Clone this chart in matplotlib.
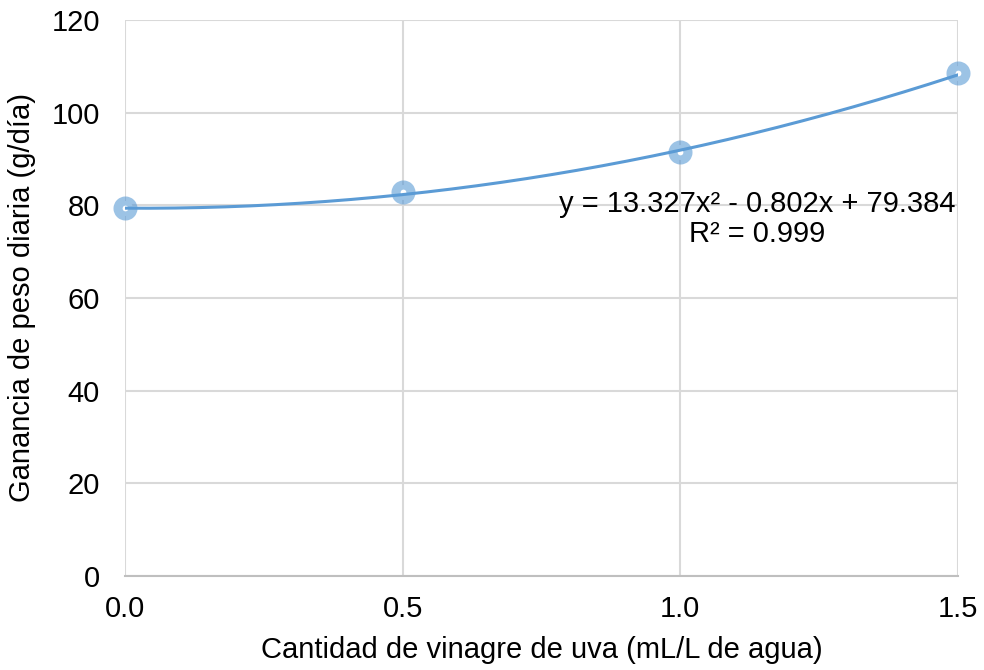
import numpy as np
import matplotlib
matplotlib.use("Agg")
import matplotlib.pyplot as plt

plt.rcParams['font.family'] = ['Liberation Sans', 'DejaVu Sans']

# Data
dose = [0.0, 0.5, 1.0, 1.5]
gain = [79.4, 82.8, 91.6, 108.5]
trend_coefs = [13.327, -0.802, 79.384]
r2 = 0.999
x_ticks = [0.0, 0.5, 1.0, 1.5]
y_ticks = [0, 20, 40, 60, 80, 100, 120]

fig = plt.figure(figsize=(9.84, 6.70), dpi=100)
ax = fig.add_axes([125/984, 1-576/670, (958-125)/984, (576-20)/670])

xs = np.linspace(dose[0], dose[-1], 200)
ax.plot(xs, np.polyval(trend_coefs, xs), color='#5B9BD5', lw=2.2, zorder=4)
ax.plot(dose, gain, linestyle='none', marker='o', markersize=10.8,
        markerfacecolor='white', markeredgecolor=(0.357, 0.608, 0.835, 0.6),
        markeredgewidth=6.5, zorder=3, clip_on=False)

ax.set_xlim(0, 1.5)
ax.set_ylim(0, 120)
ax.set_xticks(x_ticks)
ax.set_xticklabels([f"{v:.1f}" for v in x_ticks])
ax.set_yticks(y_ticks)
ax.tick_params(axis='both', length=0, labelsize=21, colors='black')
ax.tick_params(axis='x', pad=14)
ax.tick_params(axis='y', pad=18)
ax.grid(True, color='#D9D9D9', lw=1.5)
ax.set_axisbelow(True)
for s in ['top', 'right', 'left']:
    ax.spines[s].set_visible(False)
ax.spines['bottom'].set_color('#BFBFBF')
ax.spines['bottom'].set_linewidth(1.5)

ax.set_xlabel('Cantidad de vinagre de uva (mL/L de agua)', fontsize=21, labelpad=9)
ax.set_ylabel('Ganancia de peso diaria (g/día)', fontsize=21, labelpad=11)

eq = (f"y = {trend_coefs[0]:.3f}x² - {abs(trend_coefs[1]):.3f}x + {trend_coefs[2]:.3f}\n"
      f"R² = {r2:.3f}")
ax.text(1.138, 77, eq, ha='center', va='center', fontsize=21, linespacing=1.1, zorder=5)

fig.savefig('out.png', dpi=100)
